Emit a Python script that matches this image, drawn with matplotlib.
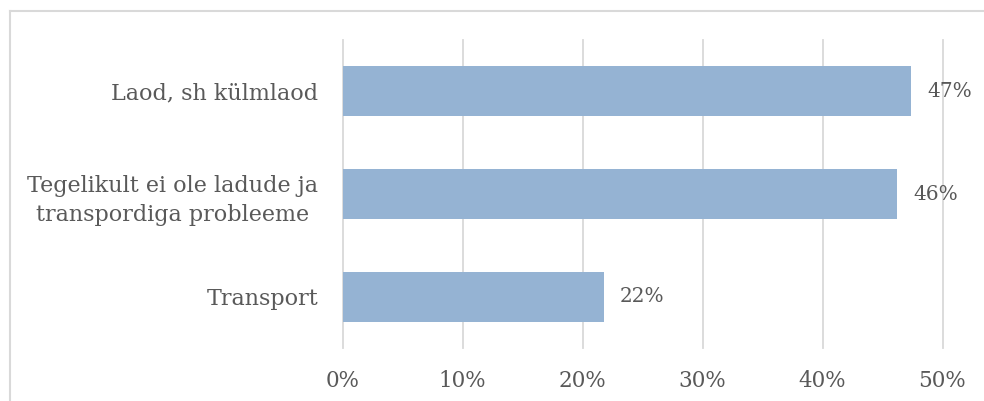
import matplotlib
matplotlib.use("Agg")
import matplotlib.pyplot as plt
from matplotlib.lines import Line2D

categories = ["Laod, sh külmlaod",
              "Tegelikult ei ole ladude ja\ntranspordiga probleeme",
              "Transport"]
values = [47.4, 46.2, 21.8]
labels = ["47%", "46%", "22%"]
xticks = [0, 10, 20, 30, 40, 50]
xticklabels = ["0%", "10%", "20%", "30%", "40%", "50%"]

W, H = 984, 401
fig = plt.figure(figsize=(W / 100, H / 100), dpi=100)
plt.rcParams['font.family'] = ['DejaVu Serif']
text_color = "#595959"
grid_color = "#D9D9D9"
bar_color = "#95B3D3"
fs = 16

ax = fig.add_axes([342.5 / W, 1 - 348 / H, 600 / W, 308 / H])
ypos = list(range(len(categories)))
ax.barh(ypos, values, height=0.49, color=bar_color, zorder=3)
ax.set_ylim(2.5, -0.5)
ax.set_xlim(0, 50)
ax.set_xticks(xticks)
ax.set_xticklabels(xticklabels, color=text_color, fontsize=15.5)
ax.set_yticks(ypos)
ax.set_yticklabels(categories, color=text_color, fontsize=fs, linespacing=1.45)
for t in ax.get_yticklabels():
    t.set_multialignment('center')
ax.tick_params(axis='both', length=0)
ax.tick_params(axis='x', pad=16)
ax.tick_params(axis='y', pad=17.5)
ax.grid(axis='x', color=grid_color, linewidth=1.3, zorder=0)
for gl in ax.get_xgridlines():
    gl.set_clip_on(False)
for s in ax.spines.values():
    s.set_visible(False)
for y, v, lab in zip(ypos, values, labels):
    ax.annotate(lab, (v, y), xytext=(16, 0), textcoords='offset pixels',
                ha='left', va='center', color=text_color, fontsize=14.5)

# chart border (top and left visible)
fig.add_artist(Line2D([10 / W, 1.0], [1 - 11 / H, 1 - 11 / H],
                      transform=fig.transFigure, color=grid_color, linewidth=1.5))
fig.add_artist(Line2D([10 / W, 10 / W], [0, 1 - 11 / H],
                      transform=fig.transFigure, color=grid_color, linewidth=1.5))

fig.savefig("out.png", dpi=100)
